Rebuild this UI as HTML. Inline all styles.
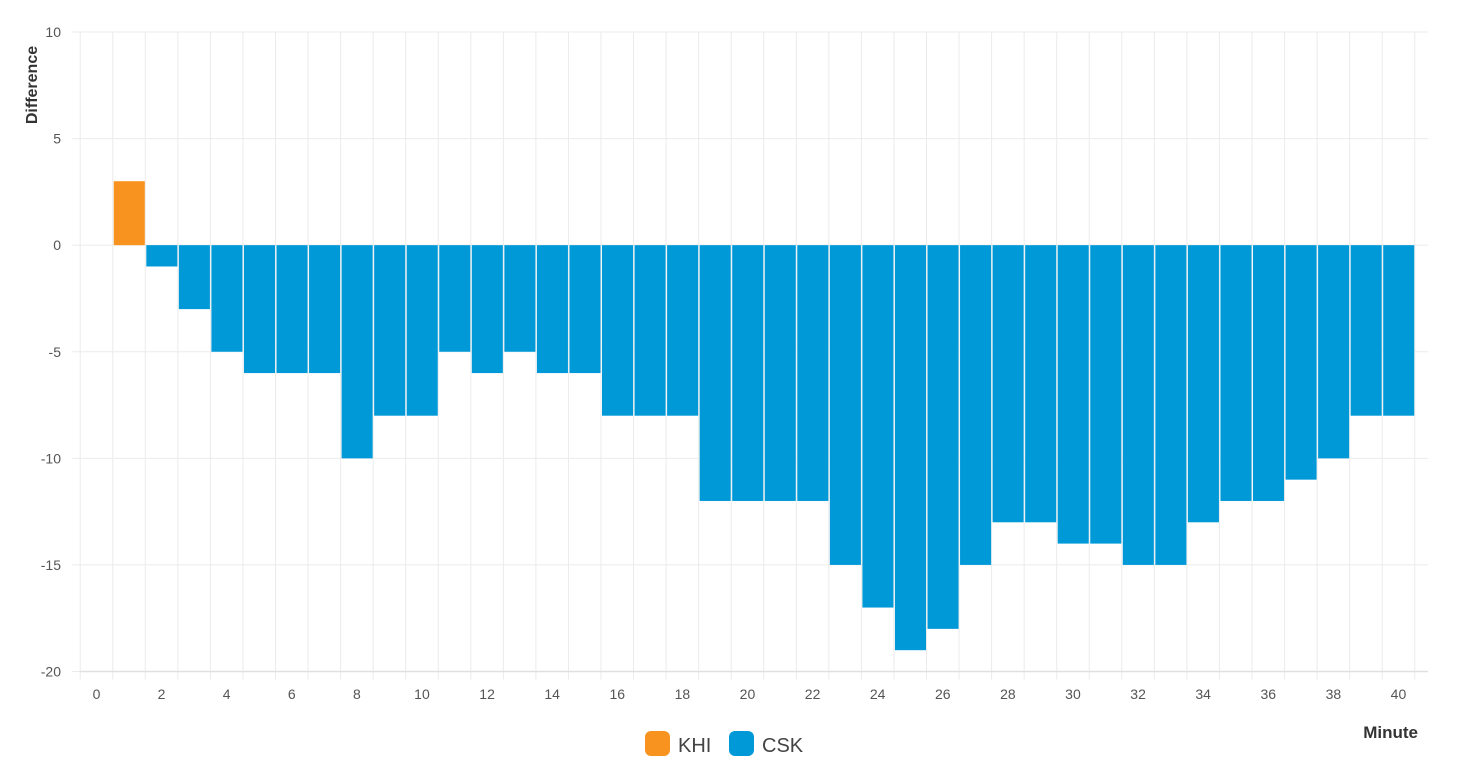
<!DOCTYPE html>
<html><head><meta charset="utf-8"><style>
body{margin:0;background:#fff;}
svg{display:block;font-family:"Liberation Sans",sans-serif;}
</style></head><body>
<svg id="chart" width="1460" height="769">
<g id="grid"></g>
<g id="bars"></g>
<g id="axes"></g>
<text x="0" y="0" transform="translate(37,85) rotate(-90)" text-anchor="middle" font-size="16" font-weight="bold" fill="#333">Difference</text>
<text x="1418" y="738" text-anchor="end" font-size="17" font-weight="bold" fill="#333">Minute</text>
<g><rect x="645" y="731" width="25" height="25" rx="6" fill="#f7931e"/><text x="678" y="752" font-size="20" fill="#444">KHI</text></g>
<g><rect x="729" y="731" width="25" height="25" rx="6" fill="#0099d8"/><text x="762" y="752" font-size="20" fill="#444">CSK</text></g>
</svg>
<script>
const minutes = Array.from({length:41},(_,i)=>i);
const khiValues = [0,3];
const cskValues = [0,0,-1,-3,-5,-6,-6,-6,-10,-8,-8,-5,-6,-5,-6,-6,-8,-8,-8,-12,-12,-12,-12,-15,-17,-19,-18,-15,-13,-13,-14,-14,-15,-15,-13,-12,-12,-11,-10,-8,-8];
const yTicks = [10,5,0,-5,-10,-15,-20];
const xTickLabels = [0,2,4,6,8,10,12,14,16,18,20,22,24,26,28,30,32,34,36,38,40];

const NS="http://www.w3.org/2000/svg";
const L=80.2, BW=32.55, TOP=32, BOT=671.5, YMAX=10, YMIN=-20;
const xBand=i=>L+i*BW;
const xC=i=>L+(i+0.5)*BW;
const y=v=>TOP+(YMAX-v)/(YMAX-YMIN)*(BOT-TOP);
function mk(tag,attrs,parent){const e=document.createElementNS(NS,tag);for(const k in attrs)e.setAttribute(k,attrs[k]);parent.appendChild(e);return e;}
const grid=document.getElementById('grid'),bars=document.getElementById('bars'),axes=document.getElementById('axes');
yTicks.forEach(t=>{
  const ln=mk('line',{x1:72,x2:1428,y1:y(t),y2:y(t),stroke:'#ebebeb','stroke-width':1},grid);
  
  
  const tx=mk('text',{x:61,y:y(t)+5,'text-anchor':'end','font-size':14,fill:'#555'},axes);
  tx.textContent=t;
  
  
});
for(let k=0;k<=minutes.length;k++){
  const ln=mk('line',{x1:xBand(k),x2:xBand(k),y1:TOP,y2:BOT+8,stroke:'#ebebeb','stroke-width':1},grid);
  
  
}
mk('line',{x1:L,x2:1428,y1:BOT,y2:BOT,stroke:'#e0e0e0','stroke-width':1.5},axes);
xTickLabels.forEach(m=>{
  const tx=mk('text',{x:xC(m),y:699,'text-anchor':'middle','font-size':14,fill:'#555'},axes);
  tx.textContent=m;
  
  
});
function drawBar(i,v,color,name){
  if(!v)return;
  const y0=y(0),y1=y(v);
  const r=mk('rect',{x:xBand(i)+1,y:Math.min(y0,y1),width:BW-1.5,height:Math.abs(y1-y0),fill:color},bars);
  
  
}
minutes.forEach(i=>{
  drawBar(i,khiValues[i]||0,'#f7931e','bar-khi-'+i);
  drawBar(i,cskValues[i]||0,'#0099d8','bar-csk-'+i);
});
</script>
</body></html>
